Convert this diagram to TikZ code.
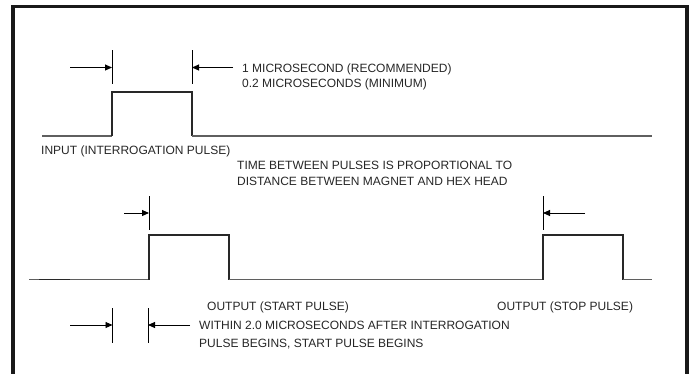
\documentclass[tikz,border=0pt]{standalone}
\usepackage{fontspec}
\setmainfont{Liberation Sans}
\usetikzlibrary{arrows.meta, positioning}
\definecolor{inkgray}{RGB}{40, 40, 40}
\definecolor{idlegray}{RGB}{95, 95, 95}
\tikzset{
    frameline/.style={line width=3.6pt, draw=black!90},
    pulseline/.style={line width=1.3pt, draw=inkgray, line join=miter},
    idleline/.style={line width=1.3pt, draw=idlegray},
    dimtick/.style={line width=0.9pt, draw=black},
    dimarrow/.style={-{Triangle[length=7pt, width=6pt]}, line width=0.9pt, draw=black},
    notetext/.style={font=\fontsize{12}{14}\selectfont, text=black!85, anchor=base west, inner sep=0pt},
}

\begin{document}
\begin{tikzpicture}[x=1pt, y=-1pt]
    \useasboundingbox (0,0) rectangle (691,373);

    % Outer frame, open at the bottom
    \draw[frameline] (13,380) -- (13,6.5) -- (687,6.5) -- (687,380);

    % Input (interrogation) pulse
    \draw[idleline] (42,136) -- (112,136);
    \draw[pulseline] (112,136) -- (112,92) -- (192,92) -- (192,136);
    \draw[idleline] (192,136) -- (652,136);

    % Input pulse width dimension
    \coordinate (inL) at (112,50);
    \coordinate (inR) at (192,50);
    \draw[dimtick] (inL) -- (112,84);
    \draw[dimtick] (inR) -- (192,84);
    \coordinate (inLtail) at (70,67.5);
    \coordinate (inRtail) at (233,67.5);
    \draw[dimarrow] (inLtail) -- (inLtail -| inL);
    \draw[dimarrow] (inRtail) -- (inRtail -| inR);

    \node[notetext] (recommended) at (242,72) {1 MICROSECOND (RECOMMENDED)};
    \node[notetext] (minimum) at (242,87) {0.2 MICROSECONDS (MINIMUM)};
    \node[notetext] (inputlabel) at (41,154.5) {INPUT (INTERROGATION PULSE)};
    \node[notetext] (timenote) at (237,169) {TIME BETWEEN PULSES IS PROPORTIONAL TO};
    \node[notetext] (distnote) at (237,185.5) {DISTANCE BETWEEN MAGNET AND HEX HEAD};

    % Output: start and stop pulses
    \draw[idleline] (29,279.5) -- (149,279.5);
    \draw[line width=1.8pt, draw=inkgray] (39,279.5) -- (70,279.5);
    \draw[pulseline] (149,279.5) -- (149,235) -- (229,235) -- (229,279.5);
    \draw[idleline] (229,279.5) -- (543,279.5);
    \draw[pulseline] (543,279.5) -- (543,235) -- (623,235) -- (623,279.5);
    \draw[idleline] (623,279.5) -- (652,279.5);

    % Start / stop edge markers
    \coordinate (startedge) at (149,196);
    \coordinate (stopedge) at (543,196);
    \draw[dimtick] (startedge) -- (149,230);
    \draw[dimtick] (stopedge) -- (543,230);
    \coordinate (starttail) at (124,213);
    \coordinate (stoptail) at (585,213);
    \draw[dimarrow] (starttail) -- (starttail -| startedge);
    \draw[dimarrow] (stoptail) -- (stoptail -| stopedge);

    \node[notetext] (startlabel) at (207,310) {OUTPUT (START PULSE)};
    \node[notetext] (stoplabel) at (497,310) {OUTPUT (STOP PULSE)};

    % Delay between interrogation and start pulse
    \coordinate (delayL) at (112.5,308);
    \coordinate (delayR) at (148,308);
    \draw[dimtick] (delayL) -- (112.5,343);
    \draw[dimtick] (delayR) -- (148,343);
    \coordinate (delayLtail) at (70,325);
    \coordinate (delayRtail) at (190,325);
    \draw[dimarrow] (delayLtail) -- (delayLtail -| delayL);
    \draw[dimarrow] (delayRtail) -- (delayRtail -| delayR);

    \node[notetext] (within) at (199,329) {WITHIN 2.0 MICROSECONDS AFTER INTERROGATION};
    \node[notetext] (begins) at (199,347) {PULSE BEGINS, START PULSE BEGINS};
\end{tikzpicture}
\end{document}
